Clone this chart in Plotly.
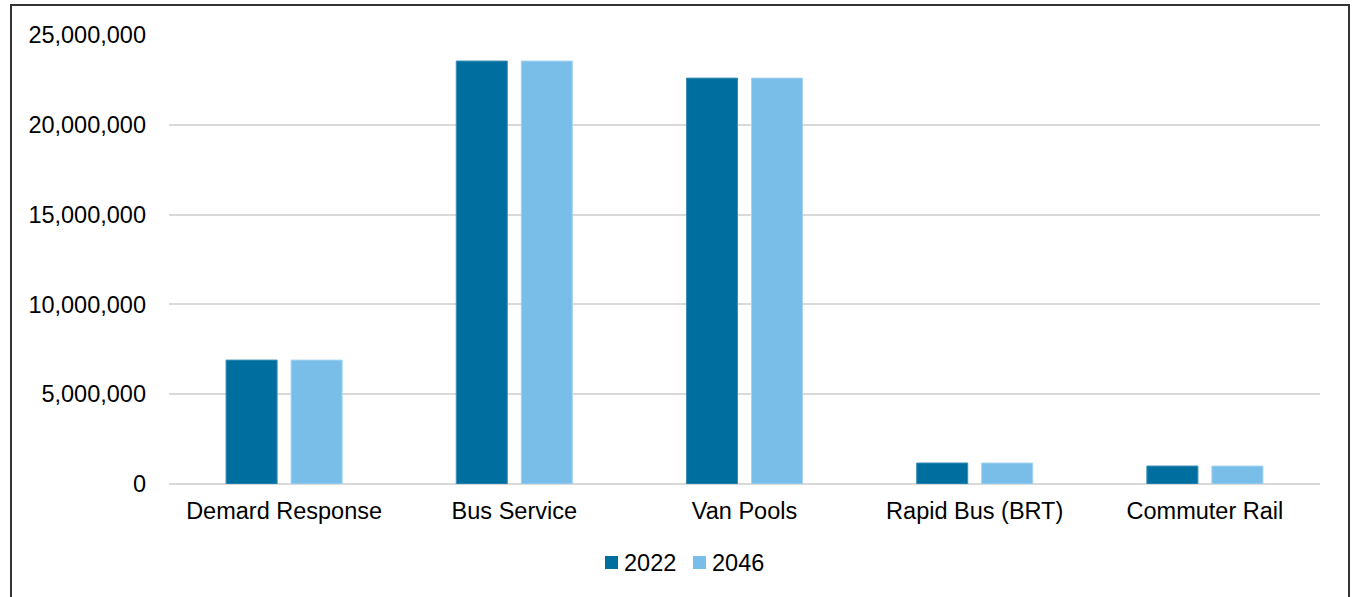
import plotly.graph_objects as go

categories = ["Demard Response", "Bus Service", "Van Pools", "Rapid Bus (BRT)", "Commuter Rail"]
values_2022 = [6900000, 23550000, 22600000, 1170000, 1000000]
values_2046 = [6900000, 23550000, 22600000, 1170000, 1000000]
series_names = ["2022", "2046"]
series_colors = ["#006FA0", "#78BEE9"]
tick_vals = [0, 5000000, 10000000, 15000000, 20000000, 25000000]
tick_text = ["0", "5,000,000", "10,000,000", "15,000,000", "20,000,000", "25,000,000"]

W, H = 1356, 597
L, R, T, B = 169, 36, 35, 113
pw, ph = W - L - R, H - T - B


def px(x):
    return (x - L) / pw


def py(y):
    return (484 - y) / ph


fig = go.Figure()
fig.add_trace(go.Bar(x=categories, y=values_2022, name=series_names[0], showlegend=False,
                     marker=dict(color=series_colors[0], line=dict(color="#3D8FB8", width=1))))
fig.add_trace(go.Bar(x=categories, y=values_2046, name=series_names[1], showlegend=False,
                     marker=dict(color=series_colors[1], line=dict(color="#A6D4F0", width=1))))

font = "Liberation Sans, Arial, sans-serif"
fs = 23.5

shapes = [dict(type="rect", xref="paper", yref="paper",
               x0=px(11), x1=px(1349), y0=py(620), y1=py(5),
               line=dict(color="#333333", width=2), fillcolor="rgba(0,0,0,0)", layer="above")]
annotations = []
legend_x = [605, 693]
for i, name in enumerate(series_names):
    x0 = legend_x[i]
    shapes.append(dict(type="rect", xref="paper", yref="paper",
                       x0=px(x0), x1=px(x0 + 13), y0=py(569), y1=py(556),
                       line=dict(width=0), fillcolor=series_colors[i]))
    annotations.append(dict(xref="paper", yref="paper", x=px(x0 + 17), y=py(562.5),
                            xanchor="left", yanchor="middle", showarrow=False,
                            text=name, font=dict(size=fs, color="#000000")))

fig.update_layout(
    width=W, height=H,
    margin=dict(l=L, r=R, t=T, b=B, autoexpand=False),
    paper_bgcolor="white", plot_bgcolor="white",
    barmode="group", bargap=0.435, bargroupgap=0.215,
    font=dict(family=font, size=fs, color="#000000"),
    showlegend=False,
    xaxis=dict(showgrid=False, showline=False, zeroline=False, ticks="",
               tickfont=dict(size=fs), ticklabelstandoff=10),
    yaxis=dict(range=[0, 25000000], tickvals=tick_vals, ticktext=tick_text,
               showgrid=True, gridcolor="#D9D9D9", gridwidth=1.5,
               zeroline=True, zerolinecolor="#D9D9D9", zerolinewidth=1.5,
               showline=False, ticks="", tickfont=dict(size=fs), ticklabelstandoff=22),
    shapes=shapes,
    annotations=annotations,
)

fig.write_html("out.html", config={"displayModeBar": False},
               post_script="document.body.style.margin='0';document.body.style.overflow='hidden';")
